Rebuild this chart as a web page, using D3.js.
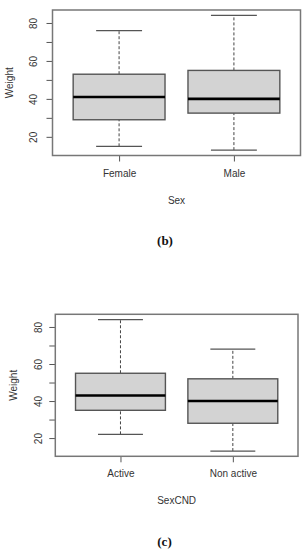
<!DOCTYPE html>
<html>
<head>
<meta charset="utf-8">
<script src="https://cdn.jsdelivr.net/npm/d3@7"></script>
<style>
  body { margin: 0; background: #fff; }
  svg { display: block; }
  text { font-family: "Liberation Sans", Arial, sans-serif; fill: #333; }
  .cap { font-family: "Liberation Serif", "DejaVu Serif", serif; font-weight: bold; fill: #111; }
</style>
</head>
<body>
<svg id="chart" width="307" height="550"></svg>
<script>
// panel (b)
var sexGroups = ["Female", "Male"];
var sexStats = [
  [15, 29, 41, 53, 76],   // min, q1, median, q3, max
  [13, 32.5, 40, 55, 84]
];
// panel (c)
var cndGroups = ["Active", "Non active"];
var cndStats = [
  [22, 35, 43, 55, 84],
  [13, 28, 40, 52, 68]
];
var yTicks = [20, 30, 40, 50, 60, 70, 80];
var yLabels = [20, 40, 60, 80];

var svg = d3.select("#chart");

var build = function(groups, stats, opts) {
  var lo = d3.min(stats, function(d) { return d[0]; });
  var hi = d3.max(stats, function(d) { return d[4]; });
  var pad = (hi - lo) * 0.04;

  var yScale = d3.scaleLinear().
    domain([lo - pad, hi + pad]).
    range([opts.bottom, opts.top]);

  var xPad = (groups.length) * 0.04;
  var xScale = d3.scaleLinear().
    domain([0.5 - xPad, groups.length + 0.5 + xPad]).
    range([opts.left, opts.right]);

  var g = svg.append("g");

  // y axis
  var yAxis = d3.axisLeft(yScale).
    tickValues(yTicks).
    tickSize(6).
    tickFormat(function(d) { return yLabels.indexOf(d) >= 0 ? d : ""; });

  var gY = g.append("g").
    attr("transform", "translate(" + opts.left + ",0)").
    call(yAxis);
  gY.select(".domain").remove();
  gY.selectAll(".tick line").attr("stroke", "#555");
  gY.selectAll(".tick text").
    attr("x", 0).attr("dy", 0).
    attr("text-anchor", "middle").
    attr("dominant-baseline", "central").
    attr("transform", function() { return "translate(" + (-opts.yLabGap) + ",0) rotate(-90)"; }).
    style("font-size", "10px").
    style("font-family", "Liberation Sans, Arial, sans-serif").
    attr("fill", "#444");

  // x axis
  var xAxis = d3.axisBottom(xScale).
    tickValues(d3.range(1, groups.length + 1)).
    tickSize(6).
    tickPadding(8).
    tickFormat(function(d) { return groups[d - 1]; });

  var gX = g.append("g").
    attr("transform", "translate(0," + opts.bottom + ")").
    call(xAxis);
  gX.select(".domain").remove();
  gX.selectAll(".tick line").attr("stroke", "#555");
  gX.selectAll(".tick text").
    style("font-size", "10px").
    style("font-family", "Liberation Sans, Arial, sans-serif").
    attr("fill", "#333");

  var half = 0.4, staple = 0.2;

  stats.forEach(function(s, i) {
    var c = xScale(i + 1);
    var bw = xScale(i + 1 + half) - c;
    var sw = xScale(i + 1 + staple) - c;

    // whiskers
    [[s[0], s[1]], [s[3], s[4]]].forEach(function(w) {
      g.append("line").
        attr("x1", c).attr("x2", c).
        attr("y1", yScale(w[0])).attr("y2", yScale(w[1])).
        attr("stroke", "#444").
        attr("stroke-width", 1).
        attr("stroke-dasharray", "3,2");
    });
    [s[0], s[4]].forEach(function(v) {
      g.append("line").
        attr("x1", c - sw).attr("x2", c + sw).
        attr("y1", yScale(v)).attr("y2", yScale(v)).
        attr("stroke", "#555").
        attr("stroke-width", 1.3);
    });

    g.append("rect").
      attr("x", c - bw).
      attr("y", yScale(s[3])).
      attr("width", bw * 2).
      attr("height", yScale(s[1]) - yScale(s[3])).
      attr("fill", "#d3d3d3").
      attr("stroke", "#555").
      attr("stroke-width", 1.4);

    g.append("line").
      attr("x1", c - bw).attr("x2", c + bw).
      attr("y1", yScale(s[2])).attr("y2", yScale(s[2])).
      attr("stroke", "#000").
      attr("stroke-width", 2.6);
  });

  // frame
  g.append("rect").
    attr("x", opts.left).attr("y", opts.top).
    attr("width", opts.right - opts.left).
    attr("height", opts.bottom - opts.top).
    attr("fill", "none").
    attr("stroke", "#777").
    attr("stroke-width", 1.5);

  g.append("text").
    attr("x", opts.yTitleX).
    attr("y", (opts.top + opts.bottom) / 2).
    attr("text-anchor", "middle").
    attr("dominant-baseline", "central").
    attr("transform", "rotate(-90," + opts.yTitleX + "," + ((opts.top + opts.bottom) / 2) + ")").
    style("font-size", "10px").
    text("Weight");

  g.append("text").
    attr("x", (opts.left + opts.right) / 2).
    attr("y", opts.xTitleY).
    attr("text-anchor", "middle").
    attr("dominant-baseline", "central").
    style("font-size", "10px").
    text(opts.xTitle);

  g.append("text").
    attr("class", "cap").
    attr("x", opts.capX).
    attr("y", opts.capY).
    attr("text-anchor", "middle").
    attr("dominant-baseline", "central").
    style("font-size", "13px").
    text(opts.caption);
};

build(sexGroups, sexStats, {
  left: 52.5, right: 300.5, top: 10, bottom: 155.5,
  yLabGap: 19.5, yTitleX: 9.5, xTitleY: 200.5, xTitle: "Sex",
  capX: 165, capY: 240, caption: "(b)"
});

build(cndGroups, cndStats, {
  left: 55.3, right: 298, top: 314.3, bottom: 456.3,
  yLabGap: 16.6, yTitleX: 13.8, xTitleY: 500, xTitle: "SexCND",
  capX: 164.5, capY: 541.5, caption: "(c)"
});
</script>
</body>
</html>
